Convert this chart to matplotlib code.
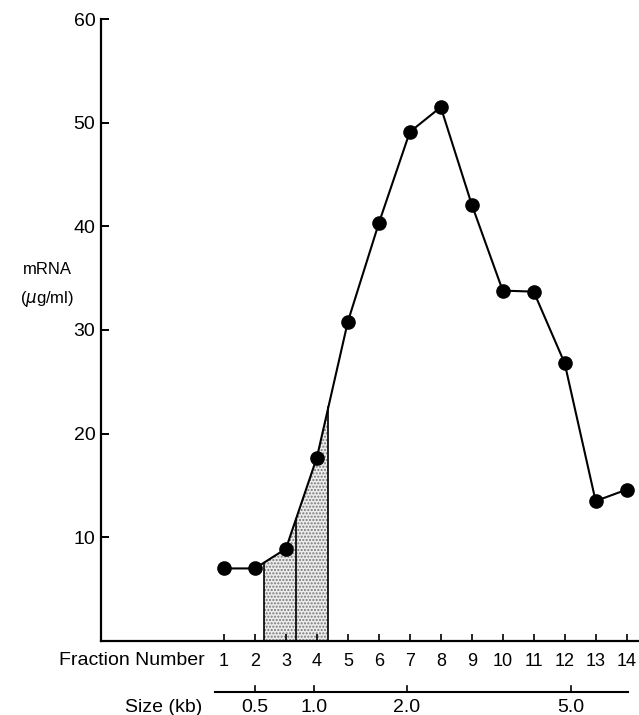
import matplotlib
matplotlib.use('Agg')
import matplotlib.pyplot as plt
import matplotlib.transforms as mtransforms
import numpy as np

plt.rcParams['font.family'] = ['Liberation Sans', 'DejaVu Sans']

# fraction number vs mRNA concentration
fractions = [1, 2, 3, 4, 5, 6, 7, 8, 9, 10, 11, 12, 13, 14]
mrna = [7.0, 7.0, 8.9, 17.7, 30.8, 40.3, 49.1, 51.5, 42.1, 33.8, 33.7, 26.8, 13.5, 14.6]

# shaded (pooled) fractions, boundaries in fraction units
shade_edges = [2.29, 3.33, 4.37]

# size scale under the fraction axis
size_labels = ['0.5', '1.0', '2.0', '5.0']
size_pos = [2.0, 3.9, 6.9, 12.2]
size_span = [0.7, 14.05]

fig = plt.figure(figsize=(6.39, 7.15), dpi=100)
ax = fig.add_axes([101 / 639, 74 / 715, 538 / 639, 622 / 715])

x = np.array(fractions, dtype=float)
y = np.array(mrna)

# shaded area under the curve
xs = np.concatenate(([shade_edges[0]], x[(x > shade_edges[0]) & (x < shade_edges[-1])], [shade_edges[-1]]))
ys = np.interp(xs, x, y)
ax.fill_between(xs, 0, ys, facecolor='#ececec', edgecolor='#777777', hatch='.....', lw=0)
for e in shade_edges:
    ax.plot([e, e], [0, np.interp(e, x, y)], color='black', lw=1.2)

ax.plot(x, y, color='black', lw=1.5, marker='o', ms=9.5, zorder=3)

ax.set_xlim(-2.97, 14.4)
ax.set_ylim(0, 60)
ax.spines['top'].set_visible(False)
ax.spines['right'].set_visible(False)
ax.spines['left'].set_linewidth(1.6)
ax.spines['bottom'].set_linewidth(1.6)

ax.set_yticks([10, 20, 30, 40, 50, 60])
ax.tick_params(axis='y', direction='in', length=6, width=1.4, labelsize=14, pad=4)
ax.set_xticks(fractions)
ax.set_xticklabels([str(f) for f in fractions])
ax.tick_params(axis='x', direction='in', length=5, width=1.2, labelsize=13, pad=8.5)

trans = mtransforms.blended_transform_factory(ax.transData, ax.transAxes)
ax.text(0.38, -0.032, 'Fraction Number', transform=trans, ha='right', va='center', fontsize=14)

# size (kb) scale
ly = -0.082
ax.plot(size_span, [ly, ly], transform=trans, color='black', lw=1.5, clip_on=False)
for p, lab in zip(size_pos, size_labels):
    ax.plot([p, p], [ly, ly + 0.009], transform=trans, color='black', lw=1.2, clip_on=False)
    ax.text(p, ly - 0.025, lab, transform=trans, ha='center', va='center', fontsize=14)
ax.text(0.3, ly - 0.025, 'Size (kb)', transform=trans, ha='right', va='center', fontsize=14)

fig.text(47 / 639, 1 - 269 / 715, 'mRNA', ha='center', va='center', fontsize=12)
fig.text(47 / 639, 1 - 299 / 715, r'($\mu$g/ml)', ha='center', va='center', fontsize=12)

fig.savefig('out.png', dpi=100)
